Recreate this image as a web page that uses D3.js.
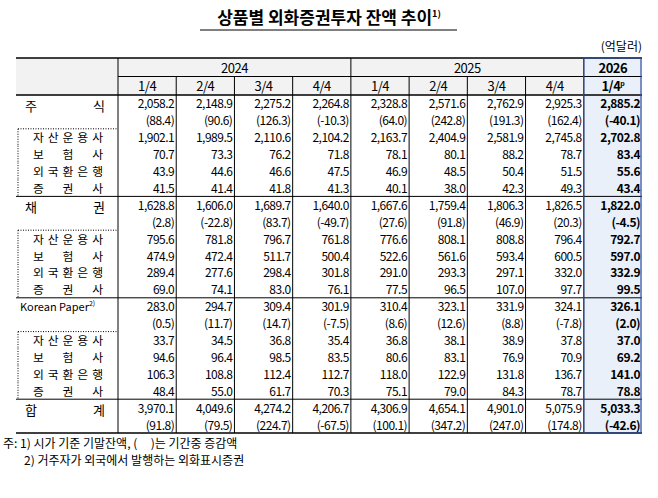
<!DOCTYPE html>
<html><head><meta charset="utf-8">
<script src="https://cdn.jsdelivr.net/npm/d3@7"></script>
<style>body{margin:0;background:#fff}</style>
</head><body><svg id="c" width="658" height="498"></svg>
<script>
var quarters = ["1/4","2/4","3/4","4/4","1/4","2/4","3/4","4/4","1/4"];
var years = [{y:"2024",from:0,to:4},{y:"2025",from:4,to:8},{y:"2026",from:8,to:9}];
// 주식
var stock = ["2,058.2","2,148.9","2,275.2","2,264.8","2,328.8","2,571.6","2,762.9","2,925.3","2,885.2"];
var stockChg = ["(88.4)","(90.6)","(126.3)","(-10.3)","(64.0)","(242.8)","(191.3)","(162.4)","(-40.1)"];
var stockSub = [
  ["1,902.1","1,989.5","2,110.6","2,104.2","2,163.7","2,404.9","2,581.9","2,745.8","2,702.8"],
  ["70.7","73.3","76.2","71.8","78.1","80.1","88.2","78.7","83.4"],
  ["43.9","44.6","46.6","47.5","46.9","48.5","50.4","51.5","55.6"],
  ["41.5","41.4","41.8","41.3","40.1","38.0","42.3","49.3","43.4"]];
var bond = ["1,628.8","1,606.0","1,689.7","1,640.0","1,667.6","1,759.4","1,806.3","1,826.5","1,822.0"];
var bondChg = ["(2.8)","(-22.8)","(83.7)","(-49.7)","(27.6)","(91.8)","(46.9)","(20.3)","(-4.5)"];
var bondSub = [
  ["795.6","781.8","796.7","761.8","776.6","808.1","808.8","796.4","792.7"],
  ["474.9","472.4","511.7","500.4","522.6","561.6","593.4","600.5","597.0"],
  ["289.4","277.6","298.4","301.8","291.0","293.3","297.1","332.0","332.9"],
  ["69.0","74.1","83.0","76.1","77.5","96.5","107.0","97.7","99.5"]];
var kp = ["283.0","294.7","309.4","301.9","310.4","323.1","331.9","324.1","326.1"];
var kpChg = ["(0.5)","(11.7)","(14.7)","(-7.5)","(8.6)","(12.6)","(8.8)","(-7.8)","(2.0)"];
var kpSub = [
  ["33.7","34.5","36.8","35.4","36.8","38.1","38.9","37.8","37.0"],
  ["94.6","96.4","98.5","83.5","80.6","83.1","76.9","70.9","69.2"],
  ["106.3","108.8","112.4","112.7","118.0","122.9","131.8","136.7","141.0"],
  ["48.4","55.0","61.7","70.3","75.1","79.0","84.3","78.7","78.8"]];
var total = ["3,970.1","4,049.6","4,274.2","4,206.7","4,306.9","4,654.1","4,901.0","5,075.9","5,033.3"];
var totalChg = ["(91.8)","(79.5)","(224.7)","(-67.5)","(100.1)","(347.2)","(247.0)","(174.8)","(-42.6)"];
var subLabels = ["자산운용사","보험사","외국환은행","증권사"];
var groups = [
  {label:"주식", v:stock, c:stockChg, sub:stockSub},
  {label:"채권", v:bond, c:bondChg, sub:bondSub},
  {label:"Korean Paper", v:kp, c:kpChg, sub:kpSub},
  {label:"합계", v:total, c:totalChg, sub:null}];

var svg = d3.select("#c");
var F = "'Noto Sans CJK KR','Noto Sans',sans-serif";
var L = 16, LW = 118, R = 642, top0 = 58, hY = 18.5, rH = 16.9;
var x = d3.scaleBand().domain(d3.range(9)).range([LW, R]);

// title
svg.append("text").attr("x", 329).attr("y", 24).attr("text-anchor","middle")
  .attr("font-family",F).attr("font-size",17).attr("font-weight",700)
  .text("상품별 외화증권투자 잔액 추이").append("tspan").attr("font-size",9).attr("dy",-7).text("1)");
svg.append("line").attr("x1",200).attr("x2",457).attr("y1",30).attr("y2",30).attr("stroke","#000");
svg.append("text").attr("x",R).attr("y",51).attr("text-anchor","end").attr("font-family",F).attr("font-size",12).text("(억달러)");

// compute rows
var rows = [], y = top0 + 2*hY;
groups.forEach(function(g){
  rows.push({y:y, vals:g.v, label:g.label, main:true, first:true});
  rows.push({y:y+rH, vals:g.c, main:true});
  y += 2*rH;
  if (g.sub) { g.sub.forEach(function(s,i){ rows.push({y:y, vals:s, label:subLabels[i], sub:true, first:i==0}); y += rH; }); }
});
var bottom = y;

// backgrounds
svg.append("rect").attr("x",L).attr("y",top0).attr("width",R-L).attr("height",2*hY).attr("fill","#f2f2f2");
svg.append("rect").attr("x",x(8)).attr("y",top0).attr("width",x.bandwidth()).attr("height",bottom-top0).attr("fill","#e9f0f9");

var g = svg.append("g").attr("font-family",F).attr("font-size",12).attr("fill","#000").attr("letter-spacing",-0.5);
// header
years.forEach(function(d){
  g.append("text").attr("x",(x(d.from)+x(d.to-1)+x.bandwidth())/2).attr("y",top0+hY-4).attr("text-anchor","middle")
    .attr("font-weight", d.y=="2026"?700:400).attr("font-size",13).text(d.y);
});
quarters.forEach(function(q,i){
  var t = g.append("text").attr("x",x(i)+x.bandwidth()/2).attr("y",top0+2*hY-4).attr("text-anchor","middle")
    .attr("font-weight", i==8?700:400).attr("font-size",13).text(q);
  if (i==8) t.append("tspan").attr("font-size",7).attr("dy",-5).text("p");
});
// cells
rows.forEach(function(r){
  r.vals.forEach(function(v,i){
    g.append("text").attr("x",x(i)+x.bandwidth()-2).attr("y",r.y+rH-3.5).attr("text-anchor","end")
      .attr("font-weight", i==8?700:400).text(v);
  });
  if (r.label) {
    if (r.label=="Korean Paper") {
      g.append("text").attr("x",20).attr("y",r.y+rH-3.5).attr("font-size",11).attr("letter-spacing",0).text("Korean Paper")
        .append("tspan").attr("font-size",7).attr("dy",-5).text("2)");
    } else if (r.main) {
      g.append("text").attr("x",25).attr("y",r.y+rH-1).attr("font-size",13).attr("letter-spacing",0)
        .attr("textLength",80).attr("lengthAdjust","spacing").text(r.label);
    } else {
      g.append("text").attr("x",33).attr("y",r.y+rH-3.5).attr("font-size",11.8).attr("letter-spacing",0)
        .attr("textLength",70).attr("lengthAdjust","spacing").text(r.label);
    }
  }
});

// lines
var ln = function(x1,y1,x2,y2,dash,w,col){ svg.append("line").attr("x1",x1).attr("y1",y1).attr("x2",x2).attr("y2",y2)
  .attr("stroke",col||"#000").attr("stroke-width",w||1).attr("stroke-dasharray",dash||null); };
ln(L,top0,R,top0,null,1.5);
ln(LW,top0+hY,R,top0+hY);
ln(L,top0+2*hY,R,top0+2*hY);
rows.forEach(function(r){
  if (r.first && r.main) ln(L,r.y,R,r.y);
  if (r.first && r.sub) ln(18,r.y,LW,r.y,"1,1.5");
});
ln(L,bottom,R,bottom,null,1.5);
// verticals
ln(LW,top0,LW,bottom);
d3.range(1,9).forEach(function(i){
  var major = (i==4||i==8);
  ln(x(i),major?top0:top0+hY,x(i),bottom);
});
// dotted left border of sub blocks
rows.forEach(function(r){ if (r.sub) ln(18,r.y,18,r.y+rH,"1,1.5"); });
// blue frame around last column
svg.append("rect").attr("x",x(8)).attr("y",top0).attr("width",x.bandwidth()-1).attr("height",bottom-top0)
  .attr("fill","none").attr("stroke","#2f4f9f").attr("stroke-width",1.2);

// notes
var n = svg.append("g").attr("font-family",F).attr("font-size",12);
n.append("text").attr("x",3).attr("y",bottom+15).attr("xml:space","preserve").text("주: 1) 시가 기준 기말잔액, (     )는 기간중 증감액");
n.append("text").attr("x",24).attr("y",bottom+32).text("2) 거주자가 외국에서 발행하는 외화표시증권");
</script></body></html>
